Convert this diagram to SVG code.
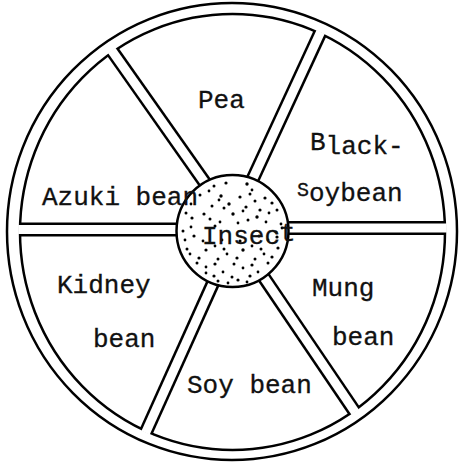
<svg xmlns="http://www.w3.org/2000/svg" width="459" height="463" viewBox="0 0 459 463">
<style>
.ln{fill:none;stroke:#000;stroke-width:2.5}
.sb{stroke:#000;stroke-width:14;stroke-linecap:butt}
.sw{stroke:#fff;stroke-width:9;stroke-linecap:butt}
.t{font-family:"Liberation Mono","DejaVu Sans Mono",monospace;font-size:26px;fill:#111;stroke:#111;stroke-width:0.3}
.d circle{fill:#000}
</style>
<defs>
<clipPath id="cb"><ellipse cx="232.5" cy="232" rx="212.5" ry="218"/></clipPath>
<clipPath id="cw"><ellipse cx="232.5" cy="232" rx="214.3" ry="219.8"/></clipPath>
</defs>
<rect width="459" height="463" fill="#fff"/>
<g id="wheel">
<ellipse class="ln" cx="232" cy="231.5" rx="225" ry="228.5"/>
<ellipse class="ln" cx="232.5" cy="232" rx="212.5" ry="218"/>
<g id="spokes">
<g clip-path="url(#cb)">
<line class="sb" x1="321.9" y1="29.2" x2="246.7" y2="192"/>
<line class="sb" x1="109.2" y1="46.8" x2="214" y2="195.6"/>
<line class="sb" x1="0" y1="229.5" x2="205" y2="229.5"/>
<line class="sb" x1="260" y1="228" x2="459" y2="228"/>
<line class="sb" x1="145.1" y1="433.8" x2="220.7" y2="266"/>
<line class="sb" x1="356.4" y1="414.1" x2="253.8" y2="262.6"/>
</g>
<g clip-path="url(#cw)">
<line class="sw" x1="321.9" y1="29.2" x2="246.7" y2="192"/>
<line class="sw" x1="109.2" y1="46.8" x2="214" y2="195.6"/>
<line class="sw" x1="0" y1="229.5" x2="205" y2="229.5"/>
<line class="sw" x1="260" y1="228" x2="459" y2="228"/>
<line class="sw" x1="145.1" y1="433.8" x2="220.7" y2="266"/>
<line class="sw" x1="356.4" y1="414.1" x2="253.8" y2="262.6"/>
</g>
</g>
</g>
<g id="pea"><text class="t" x="198" y="108">Pea</text></g>
<g id="black-soybean">
<text class="t" x="310" y="154"><tspan dy="-4">B</tspan><tspan dy="4">lack-</tspan></text>
<text class="t" x="297" y="201"><tspan dy="-5" font-size="20">S</tspan><tspan dy="5">oybean</tspan></text>
</g>
<g id="kidney">
<text class="t" x="57" y="293">Kidney</text>
<text class="t" x="93" y="347">bean</text>
</g>
<g id="mung">
<text class="t" x="312" y="296">Mung</text>
<text class="t" x="332" y="345">bean</text>
</g>
<g id="soy"><text class="t" x="187" y="393">Soy bean</text></g>
<g id="insect">
<circle cx="232.5" cy="231" r="56" fill="#fff" stroke="#000" stroke-width="2.5"/>
<g class="d">
<circle cx="214" cy="186" r="1.5"/><circle cx="226" cy="183" r="1.6"/><circle cx="247" cy="184" r="1.7"/><circle cx="252" cy="190" r="1.4"/>
<circle cx="200" cy="195" r="1.5"/><circle cx="209" cy="191" r="1.4"/><circle cx="221" cy="196" r="1.7"/><circle cx="240" cy="197" r="1.6"/><circle cx="250" cy="194" r="1.5"/><circle cx="265" cy="198" r="1.6"/>
<circle cx="191" cy="204" r="1.4"/><circle cx="212" cy="206" r="1.5"/><circle cx="219" cy="200" r="1.4"/><circle cx="229" cy="204" r="1.7"/><circle cx="246" cy="207" r="1.6"/><circle cx="255" cy="201" r="1.5"/><circle cx="272" cy="203" r="1.6"/>
<circle cx="186" cy="213" r="1.5"/><circle cx="204" cy="214" r="1.6"/><circle cx="224" cy="208" r="1.5"/><circle cx="233" cy="214" r="1.7"/><circle cx="243" cy="211" r="1.4"/><circle cx="260" cy="210" r="1.6"/><circle cx="269" cy="213" r="1.4"/><circle cx="277" cy="210" r="1.5"/>
<circle cx="192" cy="218" r="1.6"/><circle cx="210" cy="219" r="1.5"/><circle cx="220" cy="222" r="1.4"/><circle cx="238" cy="223" r="1.4"/><circle cx="248" cy="220" r="1.5"/><circle cx="257" cy="217" r="1.7"/><circle cx="266" cy="222" r="1.4"/><circle cx="281" cy="224" r="1.4"/>
<circle cx="183" cy="231" r="1.5"/><circle cx="191" cy="227" r="1.4"/><circle cx="276" cy="232" r="1.6"/><circle cx="282" cy="228" r="1.4"/><circle cx="215" cy="226" r="1.5"/>
<circle cx="185" cy="240" r="1.4"/><circle cx="194" cy="236" r="1.6"/><circle cx="203" cy="241" r="1.4"/><circle cx="222" cy="240" r="1.4"/><circle cx="240" cy="241" r="1.6"/><circle cx="259" cy="236" r="1.5"/><circle cx="268" cy="240" r="1.4"/><circle cx="277" cy="237" r="1.6"/>
<circle cx="187" cy="249" r="1.5"/><circle cx="206" cy="250" r="1.6"/><circle cx="215" cy="246" r="1.4"/><circle cx="224" cy="249" r="1.5"/><circle cx="243" cy="250" r="1.7"/><circle cx="252" cy="246" r="1.4"/><circle cx="261" cy="249" r="1.5"/><circle cx="278" cy="248" r="1.6"/>
<circle cx="190" cy="254" r="1.4"/><circle cx="199" cy="258" r="1.6"/><circle cx="218" cy="259" r="1.5"/><circle cx="227" cy="254" r="1.4"/><circle cx="237" cy="258" r="1.6"/><circle cx="255" cy="259" r="1.5"/><circle cx="264" cy="254" r="1.4"/><circle cx="272" cy="257" r="1.6"/>
<circle cx="197" cy="263" r="1.5"/><circle cx="206" cy="267" r="1.4"/><circle cx="215" cy="264" r="1.6"/><circle cx="234" cy="264" r="1.5"/><circle cx="243" cy="268" r="1.4"/><circle cx="252" cy="265" r="1.6"/><circle cx="268" cy="263" r="1.5"/>
<circle cx="206" cy="273" r="1.4"/><circle cx="214" cy="276" r="1.6"/><circle cx="223" cy="272" r="1.4"/><circle cx="232" cy="277" r="1.5"/><circle cx="250" cy="276" r="1.6"/><circle cx="258" cy="272" r="1.4"/>
<circle cx="218" cy="281" r="1.5"/><circle cx="228" cy="283" r="1.4"/><circle cx="238" cy="280" r="1.6"/><circle cx="247" cy="282" r="1.4"/>
</g>
<text class="t" x="202" y="244" font-size="23.6">Insec<tspan dy="-3">t</tspan></text>
</g>
<g id="azuki"><text class="t" x="42" y="205">Azuki bean</text></g>
</svg>
